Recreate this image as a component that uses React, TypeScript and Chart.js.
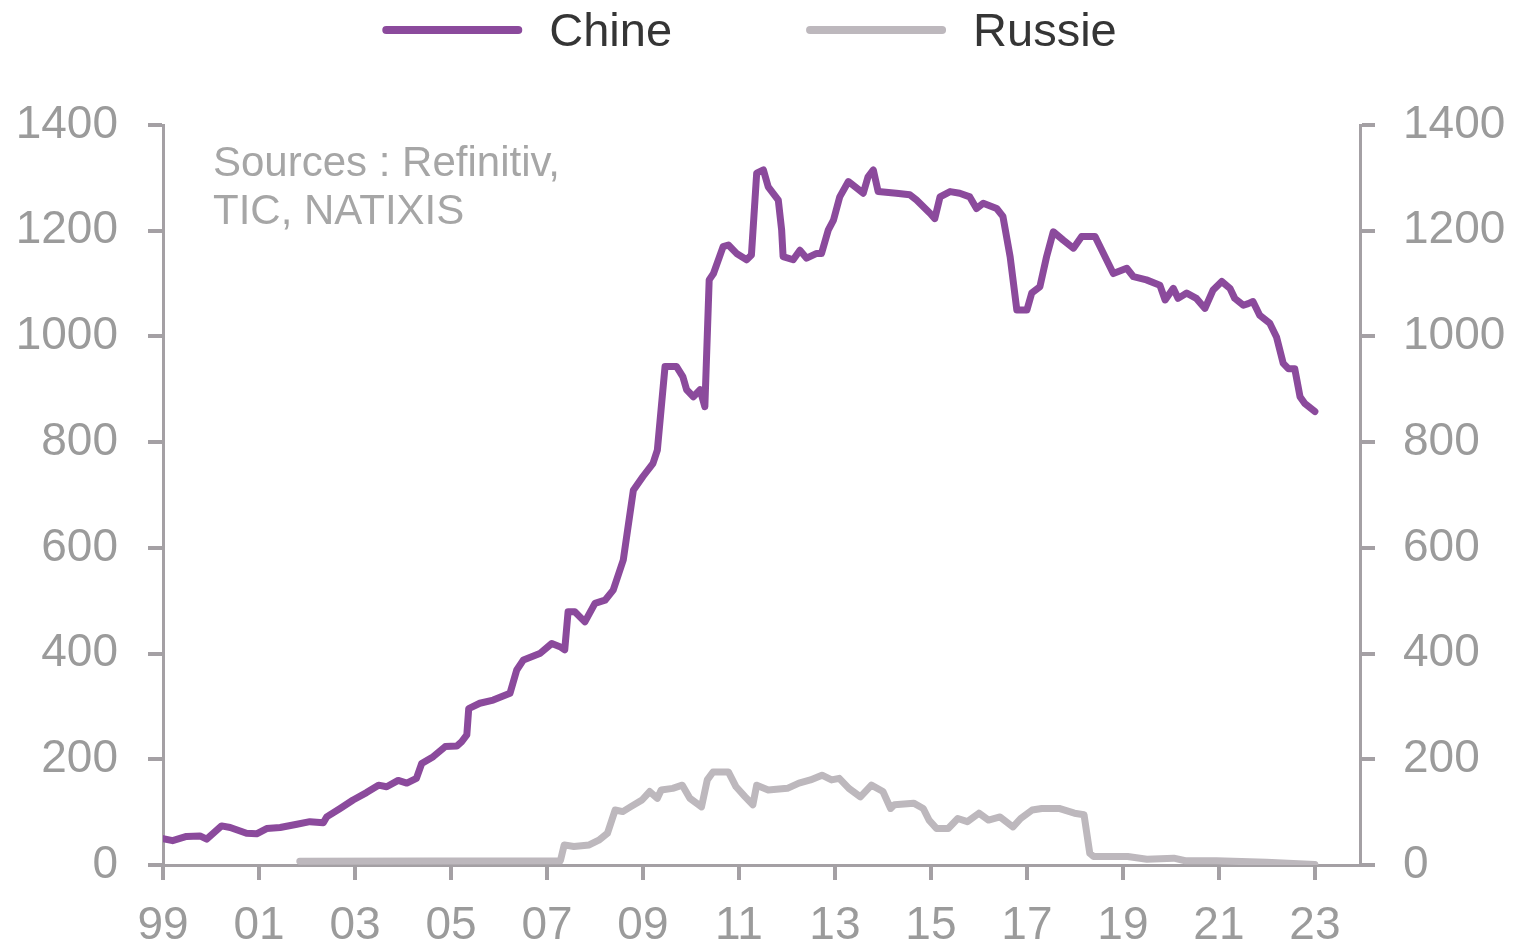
import { useEffect, useRef } from 'react';
import { Chart, registerables } from 'chart.js';

Chart.register(...registerables);

// ---- Data (decimal years, USD bn) ----
const chineYears = [
  1999.0, 1999.2, 1999.49, 1999.77, 1999.91, 2000.22, 2000.4, 2000.74, 2000.95, 2001.16,
  2001.44, 2001.79, 2002.06, 2002.34, 2002.41, 2002.69, 2002.96, 2003.24, 2003.49, 2003.66,
  2003.9, 2004.08, 2004.28, 2004.39, 2004.63, 2004.88, 2005.12, 2005.22, 2005.33, 2005.37,
  2005.6, 2005.88, 2006.23, 2006.37, 2006.51, 2006.85, 2007.1, 2007.27, 2007.37, 2007.44,
  2007.58, 2007.79, 2008.0, 2008.21, 2008.38, 2008.59, 2008.69, 2008.8, 2009.0, 2009.21,
  2009.3, 2009.46, 2009.7, 2009.83, 2009.91, 2010.05, 2010.19, 2010.29, 2010.38, 2010.47,
  2010.67, 2010.78, 2010.95, 2011.16, 2011.26, 2011.37, 2011.51, 2011.61, 2011.82, 2011.89,
  2011.92, 2012.13, 2012.27, 2012.41, 2012.62, 2012.72, 2012.86, 2012.97, 2013.1, 2013.28,
  2013.42, 2013.59, 2013.69, 2013.8, 2013.9, 2014.28, 2014.56, 2014.7, 2014.98, 2015.08,
  2015.19, 2015.4, 2015.6, 2015.81, 2015.95, 2016.09, 2016.37, 2016.5, 2016.65, 2016.79,
  2017.0, 2017.1, 2017.27, 2017.41, 2017.55, 2017.76, 2017.97, 2018.14, 2018.42, 2018.8,
  2019.08, 2019.22, 2019.49, 2019.77, 2019.88, 2020.05, 2020.15, 2020.33, 2020.53, 2020.71,
  2020.88, 2021.06, 2021.23, 2021.33, 2021.51, 2021.61, 2021.71, 2021.85, 2022.06, 2022.2,
  2022.34, 2022.45, 2022.58, 2022.69, 2022.79, 2023.0,
];
const chineValues = [
  50, 46, 54, 55, 49, 74, 71, 60, 59, 69,
  71, 77, 82, 80, 91, 107, 123, 137, 151, 148,
  160, 155, 164, 192, 205, 224, 225, 233, 246, 296,
  306, 312, 325, 369, 388, 400, 419, 413, 407, 479,
  479, 460, 495, 501, 520, 577, 640, 709, 735, 760,
  785, 943, 943, 924, 899, 886, 899, 867, 1107, 1119,
  1170, 1173, 1157, 1145, 1154, 1309, 1315, 1283, 1258, 1201,
  1151, 1145, 1163, 1148, 1157, 1157, 1201, 1220, 1264, 1293,
  1283, 1271, 1302, 1315, 1274, 1271, 1268, 1258, 1233, 1223,
  1264, 1274, 1271, 1264, 1242, 1252, 1242, 1227, 1151, 1050,
  1050, 1082, 1094, 1151, 1198, 1182, 1167, 1189, 1189, 1119,
  1129, 1113, 1107, 1097, 1069, 1091, 1072, 1082, 1072, 1053,
  1088, 1104, 1091, 1072, 1059, 1062, 1066, 1040, 1025, 999,
  949, 939, 939, 886, 873, 858,
];

const russieYears = [
  2001.85, 2007.28, 2007.36, 2007.56, 2007.88, 2008.08, 2008.26, 2008.42, 2008.58, 2008.74,
  2008.98, 2009.14, 2009.3, 2009.38, 2009.62, 2009.82, 2009.98, 2010.22, 2010.34, 2010.46,
  2010.78, 2010.94, 2011.13, 2011.29, 2011.37, 2011.61, 2012.01, 2012.25, 2012.49, 2012.73,
  2012.93, 2013.09, 2013.29, 2013.53, 2013.76, 2014.0, 2014.16, 2014.24, 2014.64, 2014.84,
  2014.96, 2015.12, 2015.36, 2015.56, 2015.76, 2016.0, 2016.2, 2016.44, 2016.71, 2016.87,
  2017.11, 2017.31, 2017.67, 2017.99, 2018.19, 2018.31, 2018.39, 2019.1, 2019.5, 2020.06,
  2020.3, 2020.95, 2021.99, 2023.0,
];
const russieValues = [
  7, 8, 38, 35, 38, 47, 60, 104, 101, 110,
  123, 139, 126, 142, 145, 151, 126, 110, 161, 176,
  176, 148, 129, 114, 151, 142, 145, 155, 161, 170,
  161, 164, 145, 129, 151, 139, 107, 114, 117, 107,
  85, 69, 69, 88, 82, 98, 85, 91, 72, 88,
  104, 107, 107, 98, 95, 22, 16, 16, 11, 13,
  8, 8, 5, 1,
];

const seriesLabels = ['Chine', 'Russie'];
const xTickYears = [1999, 2001, 2003, 2005, 2007, 2009, 2011, 2013, 2015, 2017, 2019, 2021, 2023];
const yTickValues = [0, 200, 400, 600, 800, 1000, 1200, 1400];
const sourceLines = ['Sources : Refinitiv,', 'TIC, NATIXIS'];

// ---- Styles ----
const CHINE_COLOR = '#8b4a9c';
const RUSSIE_COLOR = '#bdb8bd';
const AXIS_COLOR = '#a4a0a4';
const TICK_TEXT = '#9b9b9b';
const FONT_FAMILY = '"Liberation Sans", Arial, sans-serif';

const overlayPlugin = {
  id: 'overlayText',
  afterDraw(chart: any) {
    const ctx = chart.ctx as CanvasRenderingContext2D;
    ctx.save();
    // Legend
    ctx.font = `47px ${FONT_FAMILY}`;
    const lineLen = 140;
    const gapText = 27;
    const itemGap = 134;
    const items = chart.data.datasets.map((ds: any) => ({
      text: ds.label as string,
      color: ds.borderColor as string,
      w: lineLen + gapText + ctx.measureText(ds.label).width,
    }));
    const total = items.reduce((s: number, it: any) => s + it.w, 0) + itemGap * (items.length - 1);
    let x = 749.5 - total / 2;
    const cy = 30;
    for (const it of items) {
      ctx.strokeStyle = it.color;
      ctx.lineWidth = 8;
      ctx.lineCap = 'round';
      ctx.beginPath();
      ctx.moveTo(x + 4, cy);
      ctx.lineTo(x + lineLen - 4, cy);
      ctx.stroke();
      ctx.fillStyle = '#353535';
      ctx.textBaseline = 'alphabetic';
      ctx.textAlign = 'left';
      ctx.fillText(it.text, x + lineLen + gapText, 46);
      x += it.w + itemGap;
    }
    // Sources note
    ctx.font = `42px ${FONT_FAMILY}`;
    ctx.fillStyle = '#a6a6a6';
    ctx.textBaseline = 'alphabetic';
    ctx.textAlign = 'left';
    sourceLines.forEach((l, i) => ctx.fillText(l, chart.chartArea.left + 50, 176 + i * 48));
    ctx.restore();
  },
};

export default function App() {
  const canvasRef = useRef<HTMLCanvasElement | null>(null);

  useEffect(() => {
    if (!canvasRef.current) return;
    const chine = chineYears.map((x, i) => ({ x, y: chineValues[i] }));
    const russie = russieYears.map((x, i) => ({ x, y: russieValues[i] }));

    const tickFont = { family: FONT_FAMILY, size: 46 };
    const yCommon = (position: 'left' | 'right', width: number, padding: number) => ({
      type: 'linear' as const,
      position,
      min: 0,
      max: 1400,
      afterBuildTicks: (axis: any) => {
        axis.ticks = yTickValues.map((v) => ({ value: v }));
      },
      afterFit: (axis: any) => {
        axis.width = width;
      },
      ticks: {
        color: TICK_TEXT,
        font: tickFont,
        padding,
        callback: (v: any) => String(v),
      },
      grid: {
        display: true,
        drawOnChartArea: false,
        drawTicks: true,
        tickLength: 15,
        lineWidth: 4,
        color: AXIS_COLOR,
      },
      border: { display: true, color: AXIS_COLOR, width: 3 },
    });

    const chart = new Chart(canvasRef.current, {
      type: 'line',
      data: {
        datasets: [
          {
            label: seriesLabels[0],
            data: chine,
            borderColor: CHINE_COLOR,
            backgroundColor: CHINE_COLOR,
            borderWidth: 7,
            pointRadius: 0,
            tension: 0,
            borderJoinStyle: 'round',
            borderCapStyle: 'round',
            yAxisID: 'y',
          },
          {
            label: seriesLabels[1],
            data: russie,
            borderColor: RUSSIE_COLOR,
            backgroundColor: RUSSIE_COLOR,
            borderWidth: 7,
            pointRadius: 0,
            tension: 0,
            borderJoinStyle: 'round',
            borderCapStyle: 'round',
            yAxisID: 'y',
          },
        ],
      },
      options: {
        animation: false,
        responsive: true,
        maintainAspectRatio: false,
        layout: { padding: { top: 125, left: 0, right: 0, bottom: 0 } },
        plugins: {
          legend: { display: false },
          tooltip: { enabled: false },
          title: { display: false },
        },
        scales: {
          x: {
            type: 'linear',
            position: 'bottom',
            min: 1999,
            max: 2023.94,
            afterBuildTicks: (axis: any) => {
              axis.ticks = xTickYears.map((v) => ({ value: v }));
            },
            afterFit: (axis: any) => {
              axis.height = 84;
            },
            ticks: {
              color: TICK_TEXT,
              font: tickFont,
              padding: 19,
              autoSkip: false,
              maxRotation: 0,
              callback: (v: any) => String(Math.round(Number(v)) % 100).padStart(2, '0'),
            },
            grid: {
              display: true,
              drawOnChartArea: false,
              drawTicks: true,
              tickLength: 15,
              lineWidth: 4,
              color: AXIS_COLOR,
            },
            border: { display: true, color: AXIS_COLOR, width: 3 },
          },
          y: yCommon('left', 163, 30),
          y2: yCommon('right', 159, 28),
        },
      },
      plugins: [overlayPlugin],
    });
    return () => chart.destroy();
  }, []);

  return (
    <div style={{ position: 'absolute', left: 0, top: 0, width: 1519, height: 949, background: '#fff' }}>
      <canvas ref={canvasRef} />
    </div>
  );
}
